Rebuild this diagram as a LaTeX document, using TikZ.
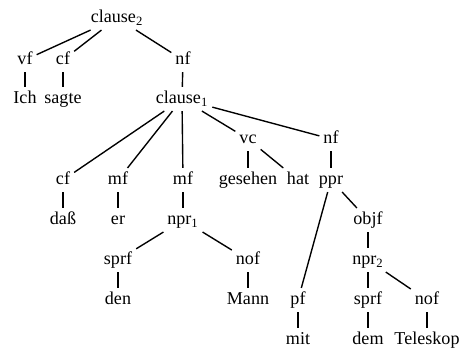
\documentclass[tikz,border=0pt]{standalone}
\usepackage{fontspec}
\setmainfont{Liberation Serif}
\usepackage{tikz}
\newcommand{\lowidx}[1]{\textsubscript{#1}}

\begin{document}
\begin{tikzpicture}[x=0.0204cm,y=-0.0204cm,
  tnode/.style={inner sep=2.2pt,text height=7.2pt,text depth=2pt,font=\fontsize{10.5}{12}\selectfont},
  tedge/.style={line width=0.8pt}]
\useasboundingbox (0,0) rectangle (460,349);

%clause_2
\node[tnode] (c2) at (117,18) {clause\lowidx{2}};
\node[tnode] (vf) at (25,60) {vf};
\node[tnode] (cfa) at (63,60) {cf};
\node[tnode] (nfa) at (183,60) {nf};
\node[tnode] (ich) at (25,99) {Ich};
\node[tnode] (sagte) at (63,99) {sagte};

%clause_1
\node[tnode] (c1) at (182,99) {clause\lowidx{1}};
\node[tnode] (cfb) at (63,180) {cf};
\node[tnode] (mfa) at (118,180) {mf};
\node[tnode] (mfb) at (183,180) {mf};
\node[tnode] (vc) at (248,139) {vc};
\node[tnode] (nfb) at (331,139) {nf};
\node[tnode] (dass) at (63,220) {daß};
\node[tnode] (er) at (118,220) {er};
\node[tnode] (gesehen) at (248,180) {gesehen};
\node[tnode] (hat) at (298,180) {hat};

%npr_1
\node[tnode] (npra) at (183,220) {npr\lowidx{1}};
\node[tnode] (sprfa) at (118,260) {sprf};
\node[tnode] (nofa) at (248,260) {nof};
\node[tnode] (den) at (118,300) {den};
\node[tnode] (mann) at (248,300) {Mann};

%ppr
\node[tnode] (ppr) at (331,180) {ppr};
\node[tnode] (pf) at (298,300) {pf};
\node[tnode] (mit) at (298,340) {mit};
\node[tnode] (objf) at (368,220) {objf};

%npr_2
\node[tnode] (nprb) at (368,260) {npr\lowidx{2}};
\node[tnode] (sprfb) at (368,300) {sprf};
\node[tnode] (nofb) at (427,300) {nof};
\node[tnode] (dem) at (368,340) {dem};
\node[tnode] (tele) at (427,340) {Teleskop};

%edges
\draw[tedge] (c2) -- (vf);
\draw[tedge] (c2) -- (cfa);
\draw[tedge] (c2) -- (nfa);
\draw[tedge] (vf) -- (ich);
\draw[tedge] (cfa) -- (sagte);
\draw[tedge] (nfa) -- (c1);
\draw[tedge] (c1) -- (cfb);
\draw[tedge] (c1) -- (mfa);
\draw[tedge] (c1) -- (mfb);
\draw[tedge] (c1) -- (vc);
\draw[tedge] (c1) -- (nfb);
\draw[tedge] (cfb) -- (dass);
\draw[tedge] (mfa) -- (er);
\draw[tedge] (mfb) -- (npra);
\draw[tedge] (vc) -- (gesehen);
\draw[tedge] (vc) -- (hat);
\draw[tedge] (nfb) -- (ppr);
\draw[tedge] (npra) -- (sprfa);
\draw[tedge] (npra) -- (nofa);
\draw[tedge] (sprfa) -- (den);
\draw[tedge] (nofa) -- (mann);
\draw[tedge] (ppr) -- (pf);
\draw[tedge] (ppr) -- (objf);
\draw[tedge] (pf) -- (mit);
\draw[tedge] (objf) -- (nprb);
\draw[tedge] (nprb) -- (sprfb);
\draw[tedge] (nprb) -- (nofb);
\draw[tedge] (sprfb) -- (dem);
\draw[tedge] (nofb) -- (tele);
\end{tikzpicture}
\end{document}
